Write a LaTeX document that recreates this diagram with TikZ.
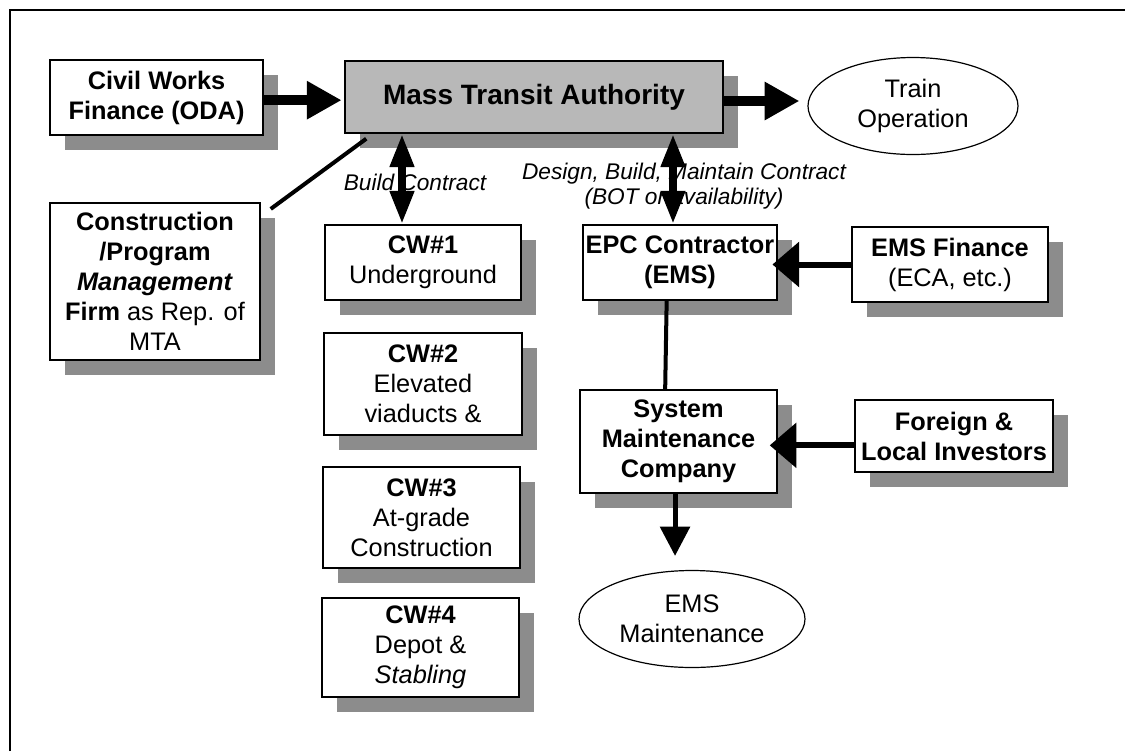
\documentclass[tikz,border=0pt]{standalone}
\usepackage{fontspec}
\setmainfont{Liberation Sans}
\usetikzlibrary{arrows.meta,shapes.geometric,shadows}

\tikzset{
  boxtext/.style={font=\fontsize{19}{22.5}\selectfont},
  orgbox/.style={boxtext, draw, line width=1.1pt, fill=white, align=center,
    inner sep=1pt,
    drop shadow={shadow xshift=11pt, shadow yshift=-11.5pt, fill=black!45, opacity=1}},
  oval/.style={boxtext, draw, line width=0.9pt, ellipse, align=center, inner sep=0pt},
  note/.style={font=\fontsize{17}{18.5}\selectfont\itshape, align=center, inner sep=0pt},
  bigarrow/.style={line width=7.5pt, -{Triangle[length=26pt,width=27pt]}},
  sidearrow/.style={line width=4.5pt, -{Triangle[length=20pt,width=33pt]}},
  downarrow/.style={line width=3.75pt, -{Triangle[length=22pt,width=22pt]}},
  twoway/.style={line width=6pt, {Triangle[length=25pt,width=17pt]}-{Triangle[length=25pt,width=17pt]}},
  link/.style={line width=3pt},
}

\begin{document}
\begin{tikzpicture}[x=0.75pt, y=-0.75pt]
  \useasboundingbox (0,0) rectangle (1125,751);

  % outer frame (top and left edges)
  \draw[line width=1.2pt] (10,751) -- (10,10) -- (1125,10);

  % organisations
  \node[orgbox, minimum width=159.75pt, minimum height=56.25pt] (cwf) at (156.5,97.5)
    {\textbf{Civil Works}\\\textbf{Finance (ODA)}};
  \node[orgbox, fill=black!28, minimum width=283.5pt, minimum height=54pt,
        font=\fontsize{21}{24}\selectfont\bfseries] (mta) at (534,97)
    {Mass Transit Authority};
  \node[oval, minimum width=157.5pt, minimum height=72.75pt] (train) at (913,106)
    {Train\\Operation};
  \node[orgbox, minimum width=157.5pt, minimum height=117.75pt] (cpm) at (155,281.5)
    {\textbf{Construction}\\\textbf{/Program}\\\textbf{\textit{Management}}\\\textbf{Firm} as Rep. of\\MTA};

  \node[orgbox, minimum width=147pt, minimum height=56.25pt] (cw1) at (423,262.5)
    {\textbf{CW\#1}\\Underground};
  \node[orgbox, minimum width=148.5pt, minimum height=76.5pt] (cw2) at (423,384)
    {\textbf{CW\#2}\\Elevated\\viaducts \&};
  \node[orgbox, minimum width=147.75pt, minimum height=75.75pt] (cw3) at (421.5,517.5)
    {\textbf{CW\#3}\\At-grade\\Construction};
  \node[orgbox, minimum width=147.75pt, minimum height=74.25pt] (cw4) at (420.5,647.5)
    {\textbf{CW\#4}\\Depot \&\\\textit{Stabling}};

  \node[orgbox, minimum width=145.5pt, minimum height=56.25pt] (epc) at (680,262.5)
    {\textbf{EPC Contractor}\\\textbf{(EMS)}};
  \node[orgbox, minimum width=147pt, minimum height=56.25pt] (emsf) at (950,264.5)
    {\textbf{EMS Finance}\\(ECA, etc.)};
  \node[orgbox, minimum width=147.75pt, minimum height=77.25pt] (smc) at (678.5,441.5)
    {\textbf{System}\\\textbf{Maintenance}\\\textbf{Company}};
  \node[orgbox, minimum width=148.5pt, minimum height=54pt] (fli) at (954,436)
    {\textbf{Foreign \&}\\\textbf{Local Investors}};
  \node[oval, minimum width=169.5pt, minimum height=72.75pt] (emsm) at (692,619)
    {EMS\\Maintenance};

  % contract labels (the arrows pass over them)
  \node[note] (buildlbl) at (415,182) {Build Contract};
  \node[note] (dbmlbl) at (684,186) {Design, Build, Maintain Contract\\(BOT or availability)};

  % flows
  \draw[bigarrow, shorten >=2pt] ([yshift=-2pt]cwf.east) -- ([yshift=-2pt]cwf.east -| mta.west);
  \draw[bigarrow, shorten >=6pt] ([yshift=-3pt]mta.east) -- ([yshift=-3pt]mta.east -| train.west);
  \draw[link] ([xshift=7.5pt,yshift=-5pt]cpm.north east) -- ([xshift=16.5pt,yshift=-3.75pt]mta.south west);

  \draw[twoway] ([xshift=-15.75pt]cw1.north) -- ([xshift=-15.75pt]cw1.north |- mta.south);
  \draw[twoway] ([xshift=-5.25pt]epc.north) -- ([xshift=-5.25pt]epc.north |- mta.south);

  \draw[sidearrow, shorten >=-4pt] (emsf.west) -- (emsf.west -| epc.east);
  \draw[sidearrow, shorten >=-6pt] ([yshift=-7pt]fli.west) -- ([yshift=-7pt]fli.west -| smc.east);

  \draw[link] ([xshift=-10pt]epc.south) -- ([xshift=-10pt]smc.north);
  \draw[downarrow, shorten >=10.5pt] ([xshift=-2.6pt]smc.south) -- ([xshift=-2.6pt]smc.south |- emsm.north);
\end{tikzpicture}
\end{document}
